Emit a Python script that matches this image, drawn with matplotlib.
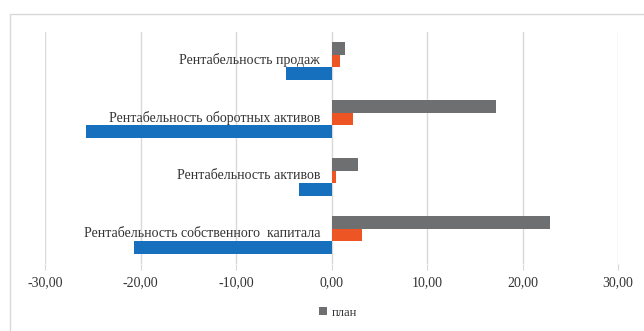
import numpy as np
import matplotlib.pyplot as plt
from matplotlib.patches import Rectangle

# categories bottom -> top (Excel order)
categories = ["Рентабельность собственного  капитала",
              "Рентабельность активов",
              "Рентабельность оборотных активов",
              "Рентабельность продаж"]
series_blue = [-20.7, -3.4, -25.7, -4.8]
series_orange = [3.2, 0.5, 2.3, 0.9]
plan = [22.9, 2.75, 17.2, 1.37]
xticks = [-30, -20, -10, 0, 10, 20, 30]

plt.rcParams['font.family'] = ['Liberation Serif', 'DejaVu Serif']

fig = plt.figure(figsize=(6.44, 3.31), dpi=100)
W, H = 644, 331
ax = fig.add_axes([45 / W, (H - 264) / H, (618 - 45) / W, (264 - 32) / H])

y = np.arange(len(categories))
h = 0.215
ax.barh(y - h, series_blue, height=h, color="#1670BE", zorder=3)
ax.barh(y, series_orange, height=h, color="#EE5525", zorder=3)
ax.barh(y + h, plan, height=h, color="#6D6F70", zorder=3, label="план")

ax.set_xlim(-30, 30)
ax.set_ylim(-0.5, len(categories) - 0.5)
ax.set_xticks(xticks)
ax.set_xticklabels([f"{v:.2f}".replace(".", ",") for v in xticks],
                   fontsize=10, color="#333333")
ax.set_yticks([])
ax.grid(axis="x", color="#D9D9D9", linewidth=1, zorder=0)
ax.tick_params(axis="x", length=4, color="#D9D9D9", pad=5)
for s in ax.spines.values():
    s.set_visible(False)

# category labels sit just left of zero
for yi, name in zip(y, categories):
    ax.text(-1.2, yi + 0.02, name, ha="right", va="center",
            fontsize=10, color="#333333")

ax.legend(loc="center", bbox_to_anchor=(0.525, 0.055),
          bbox_transform=fig.transFigure, frameon=False,
          fontsize=9, handlelength=0.6, handleheight=0.6,
          handletextpad=0.4, labelcolor="#333333")

# chart border
fig.add_artist(Rectangle((10 / W, -0.1), 1.0, (H - 14) / H + 0.1,
                         transform=fig.transFigure, fill=False,
                         edgecolor="#D9D9D9", linewidth=1))

fig.savefig("out.png", dpi=100)
